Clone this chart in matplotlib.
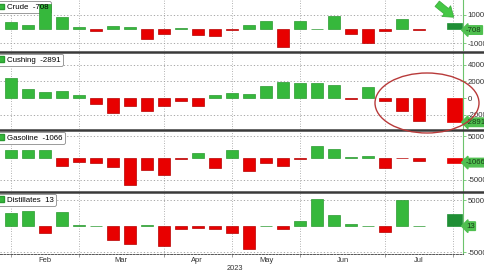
import numpy as np
import matplotlib
matplotlib.use("Agg")
import matplotlib.pyplot as plt
from matplotlib.patches import Patch, Ellipse

plt.rcParams['font.family'] = ['Liberation Sans', 'DejaVu Sans']

nan = np.nan
series_names = ["Crude", "Cushing", "Gasoline", "Distillates"]
latest_values = [-708, -2891, -1066, 13]
crude = [4830, 3000, 17500, 8300, 1400, -1200, 2300, 1600, -6900, -3200, 500, -3900, -4800, -700,
         3000, 5750, -12400, 5300, 300, 9200, -3450, -9700, -1100, 6900, -600, nan, 4400]
cushing = [2400, 1100, 720, 800, 400, -700, -1800, -1000, -1500, -900, -400, -1000, 400, 650,
           520, 1500, 1880, 1760, 1840, 1600, -100, 1300, -300, -1500, -2760, nan, -2891]
gasoline = [1800, 1800, 1800, -1850, -850, -1150, -2000, -6300, -2850, -3900, -300, 1250, -2400, 1800,
            -3000, -1200, -1900, -150, 2800, 2000, 300, 400, -2400, -50, -800, nan, -1066]
distillates = [2500, 3000, -1350, 2800, 200, 100, -2600, -3450, 250, -3850, -600, -300, -600, -1250,
               -4400, 50, -500, 1100, 5300, 2250, 400, 50, -1100, 5000, 50, nan, 2300]
month_labels = ["Feb", "Mar", "Apr", "May", "Jun", "Jul"]
month_label_pos = [2.0, 6.45, 10.95, 15.0, 19.5, 24.0]
month_grid_pos = [0, 4, 9, 13, 17, 22, 26]
year_label = "2023"

yticks = [[10000, 0, -10000], [4000, 2000, 0, -2000], [5000, 0, -5000], [5000, 0, -5000]]
ylims = [(-14970, 20220), (-3640, 5480), (-7540, 6380), (-5380, 6530)]
panel_px = [(0, 50.5), (52.5, 128.5), (130.5, 190.5), (192.5, 254)]

W, H = 485, 273
fig = plt.figure(figsize=(W / 100, H / 100), dpi=100)
fig.patch.set_facecolor("white")

GREEN = "#36b83c"
GREEN_E = "#2a9a30"
RED = "#e80000"
RED_E = "#b80000"
DARKG = "#1f8f35"
AXG = "#6cc36c"
right_px = 462.7
x_left, x_right = -11 / 17, (right_px - 11) / 17

data = [crude, cushing, gasoline, distillates]
for i, (name, vals) in enumerate(zip(series_names, data)):
    y1, y2 = panel_px[i]
    ax = fig.add_axes([0, 1 - y2 / H, right_px / W, (y2 - y1) / H])
    v = np.array(vals, dtype=float)
    n = len(v)
    idx = np.arange(n)
    main = v[:-1]
    cols = [GREEN if val >= 0 else RED for val in main]
    ecols = [GREEN_E if val >= 0 else RED_E for val in main]
    ax.bar(idx[:-1], main, width=0.75, color=cols, edgecolor=ecols, linewidth=0.5, zorder=6)
    last = v[-1]
    lc = DARKG if last >= 0 else RED
    ax.bar([idx[-1] + 0.08], [last], width=0.92, color=lc, edgecolor=lc, linewidth=0.5, zorder=6)
    ax.set_xlim(x_left, x_right)
    ax.set_ylim(*ylims[i])
    for g in month_grid_pos:
        ax.axvline(g, color="#9a9a9a", lw=0.6, ls=(0, (1, 2)), zorder=1)
    for t in yticks[i]:
        if t != 0:
            ax.axhline(t, color="#9a9a9a", lw=0.6, ls=(0, (1.5, 2.5)), zorder=1)
    ax.yaxis.tick_right()
    ax.set_yticks(yticks[i])
    labs = ["" if (t == 0 and i != 1) else str(t) for t in yticks[i]]
    ax.set_yticklabels(labs)
    ax.tick_params(axis="y", direction="out", length=2, width=0.6, color=AXG, labelsize=5.6,
                   labelcolor="#333333", pad=1.5)
    for s in ["top", "left", "bottom"]:
        ax.spines[s].set_visible(False)
    ax.spines["right"].set_color(AXG)
    ax.spines["right"].set_linewidth(0.8)
    if i < 3:
        ax.set_xticks([])
    else:
        ax.spines["bottom"].set_visible(True)
        ax.spines["bottom"].set_color("#555555")
        ax.spines["bottom"].set_linestyle((0, (2, 1.5)))
        ax.spines["bottom"].set_linewidth(0.7)
        ax.set_xticks(month_grid_pos)
        ax.set_xticklabels([""] * len(month_grid_pos))
        ax.tick_params(axis="x", length=2, width=0.5, color="#777777")
        hpx = y2 - y1
        for lab, pos in zip(month_labels, month_label_pos):
            ax.text(pos, -6.5 / hpx, lab, transform=ax.get_xaxis_transform(), ha="center",
                    va="center", fontsize=5.4, color="#333333")
        ax.text(13.2, -14.5 / hpx, year_label, transform=ax.get_xaxis_transform(), ha="center",
                va="center", fontsize=5.4, color="#333333")
    # legend: frame beneath the bars, text above them
    handle = Patch(facecolor=GREEN, edgecolor=GREEN_E)
    kw = dict(loc="upper left", bbox_to_anchor=(-0.012, 1.0), fontsize=5.7, fancybox=True,
              handlelength=0.7, handleheight=0.7, handletextpad=0.4, borderpad=0.3,
              borderaxespad=0.15)
    label = f"{name}  {latest_values[i]}"
    lg = ax.legend([handle], [label], frameon=True, **kw)
    lg.get_frame().set_edgecolor("#8a8a8a")
    lg.get_frame().set_linewidth(0.6)
    lg.get_frame().set_alpha(1)
    for t in lg.get_texts():
        t.set_alpha(0)
    for p in lg.get_patches():
        p.set_alpha(0)
    lg.set_zorder(3)
    ax.add_artist(lg)
    lg2 = ax.legend([handle], [label], frameon=False, **kw)
    lg2.set_zorder(8)
    # latest value tag
    ax.annotate(str(latest_values[i]), xy=(1.0, latest_values[i]),
                xycoords=ax.get_yaxis_transform(), xytext=(2.4, 0), textcoords="offset points",
                ha="left", va="center", fontsize=5.6, color="#173d17", annotation_clip=False,
                bbox=dict(boxstyle="larrow,pad=0.1", fc="#4fbf4f", ec="#4fbf4f"), zorder=12)

for yy in [51.5, 129.5, 191.5]:
    fig.add_artist(plt.Line2D([0, 1], [1 - yy / H, 1 - yy / H], transform=fig.transFigure,
                              color="#3a3a3a", lw=1.8))

ell = Ellipse((427 / W, 1 - 103 / H), 104 / W, 60 / H, transform=fig.transFigure,
              fill=False, edgecolor="#b83a3a", lw=1.0, zorder=20)
fig.add_artist(ell)

fig.axes[0].annotate("", xy=(456, H - 19), xycoords="figure pixels",
                     xytext=(435, H - 2), textcoords="figure pixels",
                     arrowprops=dict(arrowstyle="simple,head_length=0.7,head_width=1.0,tail_width=0.5",
                                     fc="#45c845", ec="#3aa83a", lw=0.5),
                     annotation_clip=False, zorder=25)

fig.savefig("out.png", dpi=100)
